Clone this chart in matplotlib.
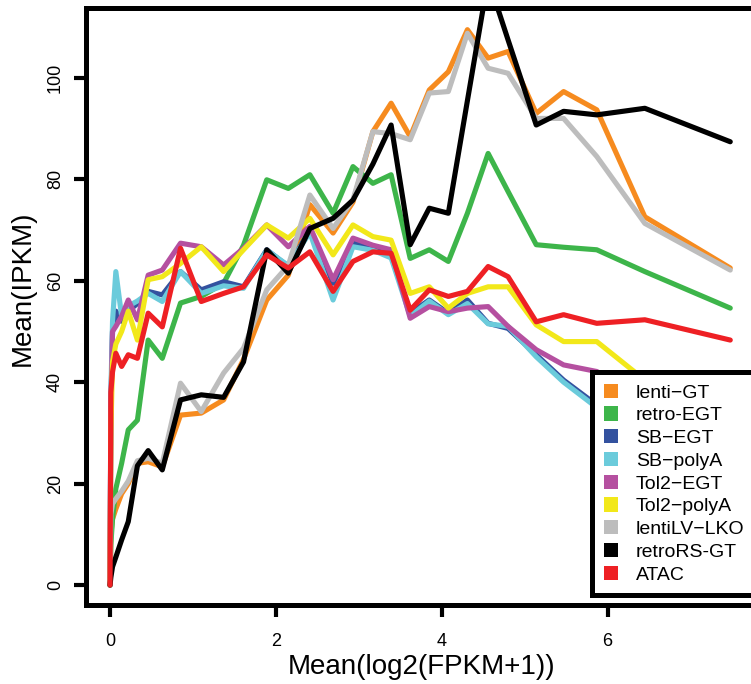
import matplotlib
matplotlib.use("Agg")
from matplotlib import pyplot as plt
from matplotlib.patches import Patch

plt.rcParams['font.family'] = ['Liberation Sans', 'DejaVu Sans']

# binned mean expression (x) shared by all series
x = [0.0, 0.01, 0.03, 0.07, 0.14, 0.22, 0.33, 0.46, 0.63, 0.85,
     1.10, 1.37, 1.61, 1.89, 2.15, 2.41, 2.69, 2.93, 3.17, 3.39,
     3.62, 3.85, 4.08, 4.31, 4.56, 4.80, 5.14, 5.47, 5.87, 6.45, 7.48]

lenti_gt = [0, 10, 13, 15, 18, 20, 24, 24.3, 23.3, 33.5,
            33.9, 36.5, 44.5, 56.2, 61.1, 75, 69.4, 75.5, 89.4, 95,
            88.4, 97.6, 101.2, 109.5, 103.9, 105.2, 93, 97.3, 93.7, 72.6, 62.5]
retro_egt = [0, 8, 13, 19, 24, 30.6, 32.5, 48.3, 44.7, 55.6,
             56.9, 59.5, 67, 79.9, 78.2, 80.9, 73.3, 82.5, 79.2, 80.9,
             64.4, 66.1, 63.8, 73.3, 85.1, 77.6, 67.1, 66.6, 66.1, 61.8, 54.6]
sb_egt = [0, 35, 50, 54, 52, 54, 55.5, 57.9, 57.2, 61.8,
          58.2, 59.8, 58.8, 66.1, 62.8, 70, 59.5, 67.4, 66.7, 65.4,
          53.6, 56.2, 53.6, 56.2, 51.6, 50.6, 45.4, 40.4, 35.5, 29, 22]
sb_polya = [0, 38, 52, 61.8, 53, 55, 56, 57.5, 55.9, 61.8,
            57.5, 59, 58.5, 66, 63, 69.5, 56.2, 66.7, 66, 64.5,
            53, 56, 53.3, 55.5, 51.5, 51, 45, 40, 35, 28, 22]
tol2_egt = [0, 35, 50, 51, 53, 56.2, 52.3, 61.1, 62.1, 67.4,
            66.7, 63.1, 66.4, 71, 66.7, 70.7, 60.2, 68.4, 67, 66.1,
            52.6, 54.9, 53.9, 54.6, 54.9, 51, 46.4, 43.4, 42.1, 37, 30]
tol2_polya = [0, 30, 44, 47.5, 50, 54, 48.3, 60.2, 60.8, 63.4,
              66.7, 61.8, 66.1, 71, 68.4, 72.3, 65.1, 71, 68.7, 68,
              57.5, 58.8, 54.6, 57.5, 58.8, 58.8, 51.3, 48, 48, 40.4, 33]
lentilv_lko = [0, 14, 16, 17, 18.5, 20.5, 24.5, 25, 24, 39.8,
               34.2, 41.8, 46.7, 58.2, 63, 76.9, 70.3, 76, 89.4, 89,
               87.8, 97, 97.3, 108.8, 101.9, 100.9, 92, 92, 84.5, 71.3, 62.1]
retrors_gt = [0, 1.5, 3.6, 5.5, 8.9, 12.5, 23.5, 26.5, 22.7, 36.5,
              37.5, 37, 44, 66.1, 61.5, 70.3, 72.3, 75.9, 83, 90.7,
              67.1, 74.3, 73.3, 95.5, 119.5, 107.5, 90.7, 93.4, 92.7, 94.0, 87.4]
atac = [0, 38, 42, 45.7, 43.1, 45.4, 44.7, 53.6, 50.9, 66.4,
        55.9, 57.5, 58.8, 65.1, 62.5, 65.7, 57.9, 63.8, 65.7, 65.4,
        54.2, 58.2, 56.9, 57.9, 62.8, 60.8, 51.9, 53.3, 51.6, 52.3, 48.3]

labels = ['lenti\u2212GT', 'retro-EGT', 'SB\u2212EGT', 'SB\u2212polyA', 'Tol2\u2212EGT',
          'Tol2\u2212polyA', 'lentiLV\u2212LKO', 'retroRS-GT', 'ATAC']
series = [lenti_gt, retro_egt, sb_egt, sb_polya, tol2_egt,
          tol2_polya, lentilv_lko, retrors_gt, atac]
colors = ['#F68B1F', '#3DB54A', '#33529F', '#6BCBDB', '#B550A0',
          '#F2E81A', '#BDBDBD', '#000000', '#EE2024']

fig = plt.figure(figsize=(7.51, 6.84), dpi=100)
ax = fig.add_axes([0.1145, 0.1155, 0.891, 0.873])

for y, c in zip(series, colors):
    ax.plot(x, y, color=c, linewidth=3.7, solid_capstyle='round', solid_joinstyle='round')

ax.set_xlim(-0.29, 7.78)
ax.set_ylim(-3.94, 113.8)
ax.set_xticks([0, 2, 4, 6])
ax.set_yticks([0, 20, 40, 60, 80, 100])
ax.set_yticklabels(['0', '20', '40', '60', '80', '100'], rotation=90, va='center')
ax.tick_params(direction='out', length=8.5, width=3, labelsize=13)
ax.tick_params(axis='y', pad=7.5)
ax.tick_params(axis='x', pad=11.5)
for s in ax.spines.values():
    s.set_linewidth(3.6)

ax.set_xlabel('Mean(log2(FPKM+1))', fontsize=20)
ax.xaxis.set_label_coords(0.502, -0.103)
ax.xaxis.label.set_verticalalignment('center')
ax.set_ylabel('Mean(IPKM)', fontsize=20)
ax.yaxis.set_label_coords(-0.094, 0.531)
ax.yaxis.label.set_verticalalignment('center')

handles = [Patch(facecolor=c, edgecolor='none') for c in colors]
leg = ax.legend(handles, labels, loc='upper left',
                bbox_to_anchor=(592 / 751, 1 - 372 / 684), bbox_transform=fig.transFigure,
                borderaxespad=0, fontsize=14, handlelength=0.75, handleheight=0.75,
                handletextpad=0.9, labelspacing=0.25, borderpad=0.6,
                fancybox=False, framealpha=1)
leg.get_frame().set_edgecolor('black')
leg.get_frame().set_linewidth(3.6)

fig.savefig('out.png', dpi=100)
